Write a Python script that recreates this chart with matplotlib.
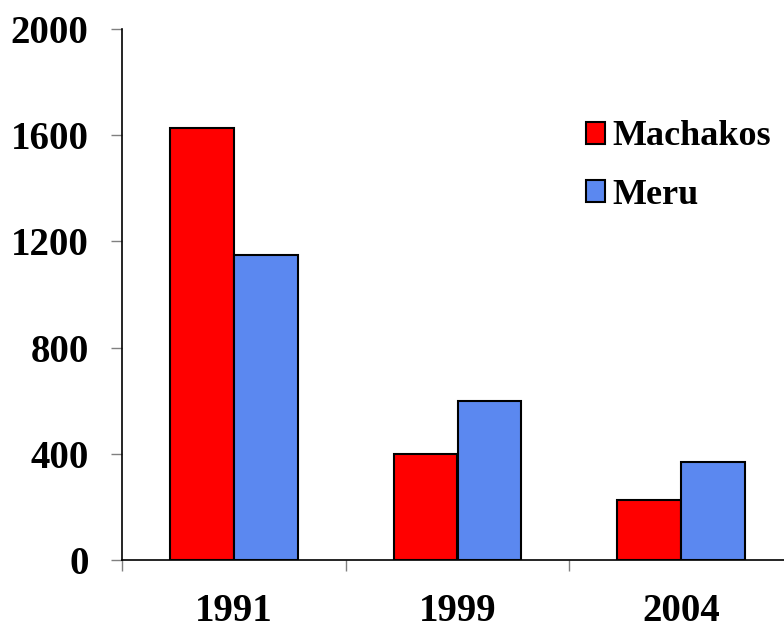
import matplotlib
matplotlib.use("Agg")
import matplotlib.pyplot as plt
import numpy as np

categories = ["1991", "1999", "2004"]
machakos = [1627, 399, 226]
meru = [1149, 599, 369]
series_names = ["Machakos", "Meru"]
yticks = [0, 400, 800, 1200, 1600, 2000]

plt.rcParams['font.family'] = ['Liberation Serif', 'DejaVu Serif']
plt.rcParams['font.weight'] = 'bold'

W, H = 784, 632
fig = plt.figure(figsize=(W/100, H/100), dpi=100)
ax = fig.add_axes([122/W, (H-560)/H, 671/W, 531/H])

x = np.arange(len(categories))
bw = 0.286
ax.bar(x - bw/2, machakos, bw, color='#FF0000', edgecolor='black', linewidth=1.5, label=series_names[0], zorder=3)
ax.bar(x + bw/2, meru, bw, color='#5B88F0', edgecolor='black', linewidth=1.5, label=series_names[1], zorder=3)

ax.set_xlim(-0.5, 2.5)
ax.set_ylim(0, 2000)
ax.set_yticks(yticks)
ax.set_yticklabels([str(v) for v in yticks], fontsize=28, fontweight='bold')
ax.set_xticks([-0.5, 0.5, 1.5, 2.5])
ax.set_xticklabels([])
ax.set_xticks(x, minor=True)
ax.set_xticklabels(categories, minor=True, fontsize=28, fontweight='bold')
ax.tick_params(axis='x', which='minor', length=0, pad=24)
ax.tick_params(axis='x', which='major', length=8, color='#808080', width=1)
ax.tick_params(axis='y', length=8, color='#808080', width=1, pad=16)

for s in ['top', 'right']:
    ax.spines[s].set_visible(False)
for s in ['left', 'bottom']:
    ax.spines[s].set_linewidth(1.2)

leg = fig.legend(loc='upper left', bbox_to_anchor=(553/W, 1 - 88/H), frameon=False,
                 prop={'family': 'Liberation Serif', 'weight': 'bold', 'size': 26},
                 handlelength=0.55, handleheight=0.55, handletextpad=0.2, labelspacing=0.7)

fig.savefig("out.png", dpi=100)
